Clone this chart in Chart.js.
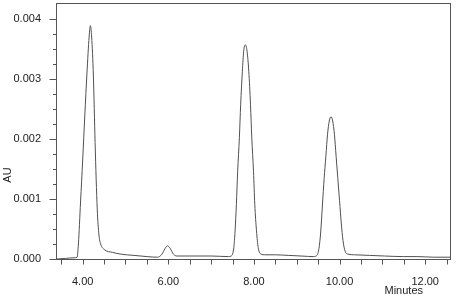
<!DOCTYPE html>
<html>
<head>
<meta charset="utf-8">
<script src="https://cdn.jsdelivr.net/npm/chart.js@4"></script>
<style>
  html, body { margin: 0; padding: 0; background: #ffffff; }
  #wrap { width: 456px; height: 295px; }
</style>
</head>
<body>
<div id="wrap"><canvas id="c" width="456" height="295"></canvas></div>
<script>
// ---- data ----
const times = [3.40,3.60,3.80,3.87,3.90,3.95,4.00,4.05,4.10,4.15,4.18,4.21,4.25,4.29,4.34,4.38,4.42,4.50,4.70,4.90,5.20,5.50,5.75,5.85,5.92,5.98,6.05,6.12,6.20,6.50,7.00,7.40,7.47,7.53,7.56,7.59,7.62,7.66,7.69,7.73,7.76,7.80,7.84,7.88,7.92,7.95,7.99,8.02,8.06,8.10,8.17,8.25,8.50,8.80,9.10,9.40,9.47,9.52,9.56,9.60,9.64,9.68,9.72,9.76,9.80,9.84,9.88,9.92,9.96,10.00,10.04,10.08,10.13,10.20,10.35,10.70,11.05,11.50,11.83,12.20,12.58];
const auValues = [0.000000,0.000010,0.000020,0.000030,0.000250,0.000950,0.001650,0.002400,0.003100,0.003700,0.003890,0.003700,0.003050,0.001940,0.000830,0.000400,0.000250,0.000160,0.000110,0.000080,0.000060,0.000040,0.000030,0.000080,0.000170,0.000220,0.000170,0.000080,0.000050,0.000050,0.000050,0.000040,0.000050,0.000190,0.000470,0.000910,0.001460,0.002020,0.002570,0.003130,0.003460,0.003570,0.003460,0.003130,0.002570,0.002020,0.001460,0.000910,0.000470,0.000190,0.000080,0.000070,0.000070,0.000060,0.000050,0.000040,0.000060,0.000180,0.000450,0.000900,0.001340,0.001710,0.002080,0.002300,0.002370,0.002300,0.002080,0.001710,0.001340,0.000970,0.000600,0.000310,0.000130,0.000080,0.000070,0.000060,0.000050,0.000040,0.000040,0.000030,0.000030];
const xMajorTicks = [4, 6, 8, 10, 12];
const xMinorTicks = [3.5,4,4.5,5,5.5,6,6.5,7,7.5,8,8.5,9,9.5,10,10.5,11,11.5,12,12.5];
const yMajorTicks = [0, 0.001, 0.002, 0.003, 0.004];
const yMinorTicks = [0.00025,0.0005,0.00075,0.00125,0.0015,0.00175,0.00225,0.0025,0.00275,0.00325,0.0035,0.00375];
const xTitle = 'Minutes';
const yTitle = 'AU';

const FONT = 'Liberation Sans, Arial, sans-serif';
const AXIS = '#555555';

const frameAndTicks = {
  id: 'frameAndTicks',
  afterDraw(chart) {
    const ctx = chart.ctx;
    const a = chart.chartArea;
    const xs = chart.scales.x, ys = chart.scales.y;
    ctx.save();
    ctx.strokeStyle = AXIS;
    ctx.lineWidth = 1;
    ctx.strokeRect(Math.round(a.left) - 0.5, Math.round(a.top) - 0.5,
                   Math.round(a.right - a.left) + 1, Math.round(a.bottom - a.top) + 1);
    ctx.beginPath();
    const bx = Math.round(a.left) - 0.5;
    yMajorTicks.forEach(v => { const p = Math.round(ys.getPixelForValue(v)) + 0.5; ctx.moveTo(bx - 7, p); ctx.lineTo(bx, p); });
    yMinorTicks.forEach(v => { const p = Math.round(ys.getPixelForValue(v)) + 0.5; ctx.moveTo(bx - 3.5, p); ctx.lineTo(bx, p); });
    const by = Math.round(a.bottom) + 0.5;
    xMinorTicks.forEach(v => { const p = Math.round(xs.getPixelForValue(v)) + 0.5; ctx.moveTo(p, by); ctx.lineTo(p, by + 5); });
    ctx.stroke();
    // axis titles
    ctx.fillStyle = '#222222';
    ctx.font = '11px ' + FONT;
    ctx.textAlign = 'right';
    ctx.textBaseline = 'alphabetic';
    ctx.fillText(xTitle, 423, 294);
    ctx.translate(11, 175);
    ctx.rotate(-Math.PI / 2);
    ctx.textAlign = 'center';
    ctx.fillText(yTitle, 0, 0);
    ctx.restore();
  }
};

new Chart(document.getElementById('c'), {
  type: 'line',
  data: {
    datasets: [{
      data: times.map((t, i) => ({ x: t, y: auValues[i] })),
      borderColor: '#505050',
      borderWidth: 1,
      pointRadius: 0,
      cubicInterpolationMode: 'monotone',
      fill: false
    }]
  },
  options: {
    responsive: false,
    animation: false,
    events: [],
    layout: { padding: { left: 0, right: 6, top: 4, bottom: 0 } },
    plugins: { legend: { display: false }, tooltip: { enabled: false }, title: { display: false } },
    scales: {
      x: {
        type: 'linear',
        min: 3.40,
        max: 12.58,
        grid: { display: false },
        border: { display: false },
        afterBuildTicks: s => { s.ticks = xMajorTicks.map(v => ({ value: v })); },
        afterFit: s => { s.height = 36; s.paddingLeft = 0; s.paddingRight = 0; },
        ticks: {
          autoSkip: false,
          maxRotation: 0,
          padding: 8,
          color: '#222222',
          font: { family: FONT, size: 11 },
          callback: v => Number(v).toFixed(2)
        }
      },
      y: {
        type: 'linear',
        min: 0,
        max: 0.00425,
        grid: { display: false },
        border: { display: false },
        afterBuildTicks: s => { s.ticks = yMajorTicks.map(v => ({ value: v })); },
        afterFit: s => { s.width = 57; s.paddingTop = 0; s.paddingBottom = 0; },
        ticks: {
          autoSkip: false,
          padding: 8,
          color: '#222222',
          font: { family: FONT, size: 11 },
          callback: v => Number(v).toFixed(3)
        }
      }
    }
  },
  plugins: [frameAndTicks]
});
</script>
</body>
</html>
